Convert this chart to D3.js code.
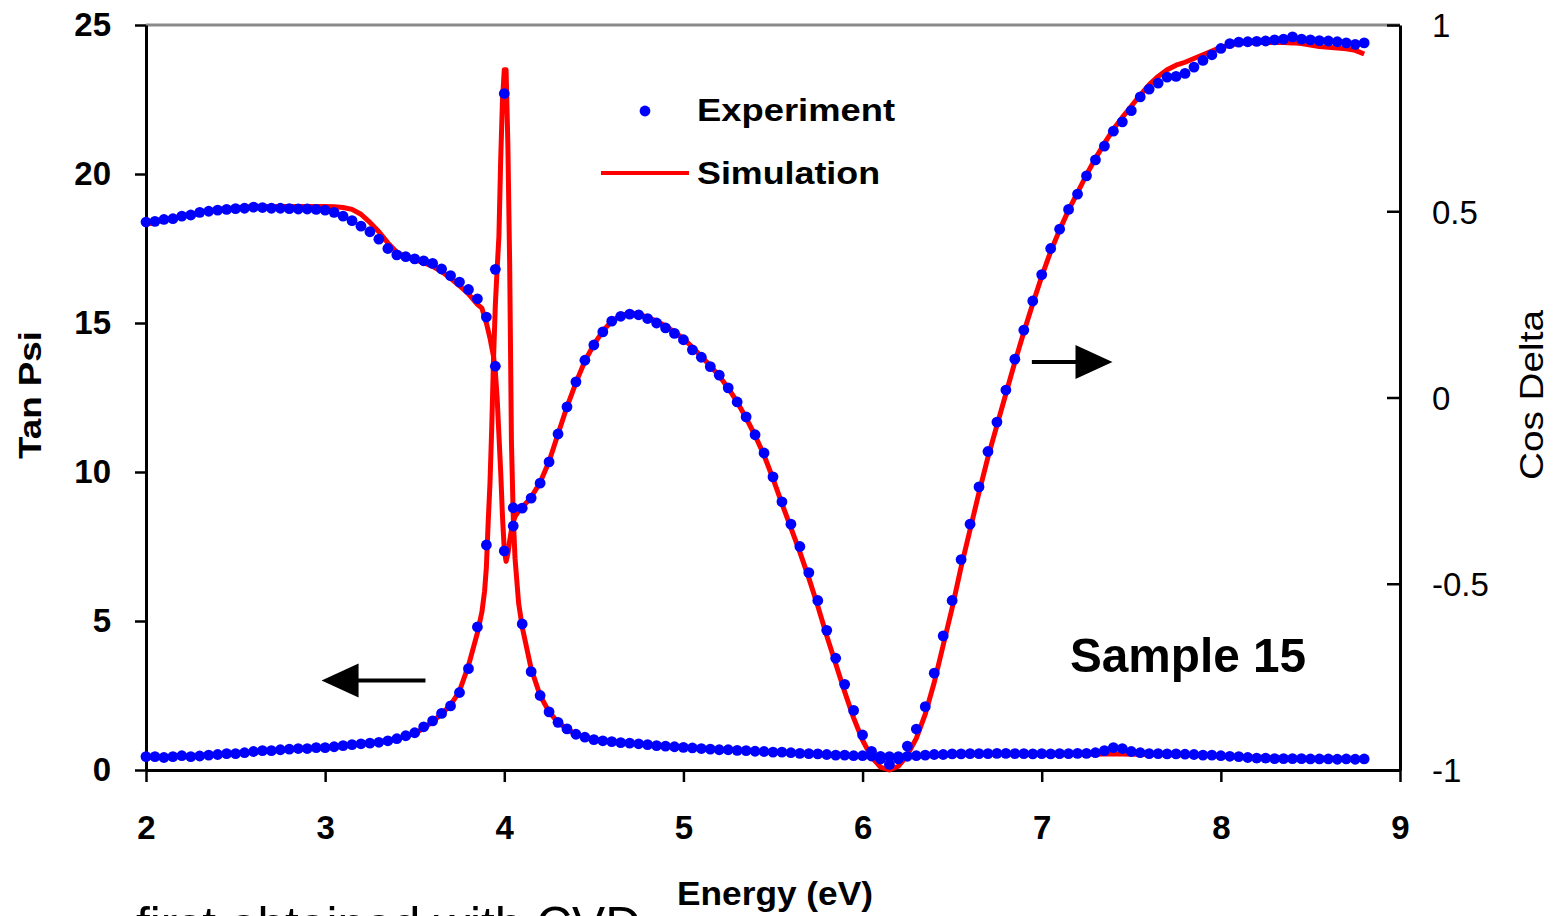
<!DOCTYPE html>
<html>
<head>
<meta charset="utf-8">
<title>Sample 15</title>
<script src="https://d3js.org/d3.v7.min.js"></script>
<style>
  body { margin: 0; background: #fff; overflow: hidden; }
  svg { display: block; font-family: "Liberation Sans", Arial, sans-serif; }
</style>
</head>
<body>
<svg id="chart"></svg>
<script>
// measured points, 0.05 eV step
var expEnergy = [
  2.00,2.05,2.10,2.15,2.20,2.25,2.30,2.35,2.40,2.45,
  2.50,2.55,2.60,2.65,2.70,2.75,2.80,2.85,2.90,2.95,
  3.00,3.05,3.10,3.15,3.20,3.25,3.30,3.35,3.40,3.45,
  3.50,3.55,3.60,3.65,3.70,3.75,3.80,3.85,3.90,3.95,
  4.00,4.05,4.10,4.15,4.20,4.25,4.30,4.35,4.40,4.45,
  4.50,4.55,4.60,4.65,4.70,4.75,4.80,4.85,4.90,4.95,
  5.00,5.05,5.10,5.15,5.20,5.25,5.30,5.35,5.40,5.45,
  5.50,5.55,5.60,5.65,5.70,5.75,5.80,5.85,5.90,5.95,
  6.00,6.05,6.10,6.15,6.20,6.25,6.30,6.35,6.40,6.45,
  6.50,6.55,6.60,6.65,6.70,6.75,6.80,6.85,6.90,6.95,
  7.00,7.05,7.10,7.15,7.20,7.25,7.30,7.35,7.40,7.45,
  7.50,7.55,7.60,7.65,7.70,7.75,7.80,7.85,7.90,7.95,
  8.00,8.05,8.10,8.15,8.20,8.25,8.30,8.35,8.40,8.45,
  8.50,8.55,8.60,8.65,8.70,8.75,8.80
];
var expTanPsi = [
  0.45,0.45,0.42,0.45,0.48,0.45,0.47,0.50,0.52,0.55,
  0.55,0.58,0.62,0.65,0.65,0.68,0.70,0.72,0.72,0.75,
  0.75,0.78,0.82,0.85,0.88,0.90,0.93,0.98,1.05,1.15,
  1.25,1.45,1.65,1.90,2.15,2.60,3.40,4.80,7.55,16.8,
  22.7,8.8,4.9,3.3,2.5,1.95,1.6,1.38,1.2,1.1,
  1.02,0.98,0.95,0.92,0.90,0.88,0.85,0.82,0.80,0.78,
  0.76,0.74,0.72,0.70,0.68,0.68,0.66,0.65,0.63,0.62,
  0.60,0.60,0.58,0.56,0.55,0.54,0.52,0.50,0.50,0.48,
  0.48,0.47,0.46,0.45,0.45,0.46,0.48,0.50,0.52,0.52,
  0.54,0.54,0.55,0.55,0.55,0.56,0.56,0.55,0.55,0.54,
  0.55,0.54,0.55,0.55,0.56,0.56,0.58,0.65,0.75,0.72,
  0.62,0.58,0.55,0.55,0.54,0.54,0.53,0.52,0.50,0.50,
  0.48,0.46,0.45,0.42,0.40,0.40,0.38,0.38,0.38,0.38,
  0.37,0.37,0.37,0.36,0.37,0.36,0.37
];
var expCosDelta = [
  0.471,0.473,0.478,0.480,0.487,0.490,0.497,0.500,0.503,0.505,
  0.507,0.508,0.511,0.510,0.508,0.508,0.507,0.506,0.506,0.505,
  0.503,0.497,0.487,0.475,0.460,0.445,0.425,0.400,0.383,0.378,
  0.372,0.367,0.360,0.345,0.327,0.310,0.290,0.265,0.216,0.084,
  -0.412,-0.345,-0.297,-0.270,-0.230,-0.173,-0.098,-0.025,0.042,0.100,
  0.141,0.176,0.205,0.218,0.224,0.222,0.212,0.200,0.187,0.172,
  0.155,0.128,0.108,0.083,0.060,0.026,-0.012,-0.052,-0.100,-0.149,
  -0.213,-0.280,-0.340,-0.400,-0.470,-0.545,-0.625,-0.700,-0.770,-0.840,
  -0.906,-0.950,-0.970,-0.985,-0.970,-0.936,-0.890,-0.830,-0.740,-0.640,
  -0.545,-0.435,-0.340,-0.240,-0.145,-0.066,0.020,0.103,0.181,0.259,
  0.330,0.400,0.452,0.505,0.546,0.595,0.638,0.675,0.715,0.740,
  0.770,0.807,0.828,0.844,0.860,0.862,0.870,0.887,0.905,0.920,
  0.937,0.950,0.954,0.955,0.956,0.957,0.960,0.962,0.968,0.962,
  0.960,0.958,0.957,0.955,0.952,0.948,0.952
];

// fitted model, finer around the 4 eV resonance
var simEnergy = [
  2.00,2.05,2.10,2.15,2.20,2.25,2.30,2.35,2.40,2.45,
  2.50,2.55,2.60,2.65,2.70,2.75,2.80,2.85,2.90,2.95,
  3.00,3.05,3.10,3.15,3.20,3.25,3.30,3.35,3.40,3.45,
  3.50,3.55,3.60,3.65,3.70,3.75,3.80,3.85,
  3.875,3.89,3.90,3.91,3.92,3.93,3.94,3.95,3.96,3.97,3.98,3.99,
  4.00,4.01,4.02,4.03,4.04,4.05,4.06,4.08,4.10,
  4.15,4.20,4.25,4.30,4.35,4.40,4.45,
  4.50,4.55,4.60,4.65,4.70,4.75,4.80,4.85,4.90,4.95,
  5.00,5.05,5.10,5.15,5.20,5.25,5.30,5.35,5.40,5.45,
  5.50,5.55,5.60,5.65,5.70,5.75,5.80,5.85,5.90,5.95,
  6.00,6.05,6.10,6.15,6.20,6.25,6.30,6.35,6.40,6.45,
  6.50,6.55,6.60,6.65,6.70,6.75,6.80,6.85,6.90,6.95,
  7.00,7.05,7.10,7.15,7.20,7.25,7.30,7.35,7.40,7.45,
  7.50,7.55,7.60,7.65,7.70,7.75,7.80,7.85,7.90,7.95,
  8.00,8.05,8.10,8.15,8.20,8.25,8.30,8.35,8.40,8.45,
  8.50,8.55,8.60,8.65,8.70,8.75,8.80
];
var simTanPsi = [
  0.42,0.43,0.44,0.45,0.46,0.47,0.48,0.50,0.52,0.54,
  0.56,0.58,0.60,0.62,0.64,0.66,0.68,0.70,0.72,0.74,
  0.76,0.78,0.81,0.84,0.87,0.90,0.94,0.99,1.05,1.13,
  1.23,1.40,1.62,1.88,2.18,2.65,3.50,4.60,
  5.3,6.0,6.8,8.3,9.6,11.5,13.8,15.6,16.8,17.9,20.5,22.5,
  23.5,23.5,21.0,17.0,11.0,8.5,7.1,5.6,4.8,
  3.4,2.5,1.95,1.6,1.38,1.2,1.1,
  1.02,0.98,0.95,0.92,0.90,0.88,0.85,0.82,0.80,0.78,
  0.76,0.74,0.72,0.70,0.68,0.67,0.66,0.65,0.63,0.62,
  0.60,0.59,0.58,0.56,0.55,0.54,0.52,0.51,0.50,0.49,
  0.48,0.47,0.46,0.45,0.45,0.46,0.47,0.48,0.49,0.50,
  0.51,0.52,0.52,0.53,0.53,0.53,0.53,0.53,0.53,0.53,
  0.53,0.53,0.53,0.53,0.53,0.53,0.53,0.54,0.54,0.54,
  0.53,0.53,0.52,0.52,0.51,0.51,0.50,0.50,0.49,0.48,
  0.47,0.46,0.45,0.44,0.43,0.42,0.41,0.40,0.39,0.39,
  0.38,0.38,0.37,0.37,0.36,0.36,0.36
];
var simCosDelta = [
  0.465,0.470,0.476,0.482,0.487,0.492,0.497,0.501,0.504,0.507,
  0.509,0.511,0.512,0.513,0.513,0.513,0.513,0.513,0.513,0.513,
  0.513,0.512,0.510,0.505,0.492,0.470,0.445,0.415,0.390,0.378,
  0.370,0.362,0.352,0.338,0.320,0.300,0.278,0.250,
  0.240,0.215,0.200,0.180,0.160,0.135,0.110,0.070,0.000,-0.100,-0.200,-0.320,
  -0.410,-0.440,-0.420,-0.385,-0.355,-0.335,-0.320,-0.305,-0.295,
  -0.268,-0.228,-0.172,-0.098,-0.025,0.040,0.098,
  0.142,0.178,0.205,0.220,0.226,0.224,0.215,0.205,0.192,0.176,
  0.158,0.135,0.110,0.085,0.058,0.025,-0.012,-0.055,-0.102,-0.155,
  -0.218,-0.285,-0.350,-0.415,-0.485,-0.560,-0.640,-0.715,-0.790,-0.860,
  -0.920,-0.965,-0.992,-1.000,-0.990,-0.960,-0.915,-0.850,-0.765,-0.665,
  -0.565,-0.455,-0.355,-0.255,-0.160,-0.075,0.010,0.095,0.175,0.252,
  0.325,0.392,0.450,0.503,0.550,0.598,0.642,0.682,0.720,0.752,
  0.782,0.812,0.840,0.862,0.880,0.892,0.900,0.910,0.920,0.930,
  0.940,0.946,0.950,0.952,0.953,0.953,0.953,0.953,0.952,0.950,
  0.946,0.942,0.940,0.938,0.936,0.932,0.922
];

var energyTicks = [2,3,4,5,6,7,8,9];
var tanPsiTicks = [0,5,10,15,20,25];
var cosDeltaTicks = [-1,-0.5,0,0.5,1];
var legendLabels = ["Experiment", "Simulation"];
var sampleLabel = "Sample 15";
// arrows: [energy from, energy to, value] -- left one on tan psi, right one on cos delta
var tanPsiArrow = [3.56, 2.98, 3.0];
var cosDeltaArrow = [6.945, 7.395, 0.095];

var width = 1560, height = 916;
var plotLeft = 146, plotRight = 1400, plotTop = 25, plotBottom = 770;
var font = '"Liberation Sans", Arial, sans-serif';

var svg = d3.select('#chart')
  .attr('width', width)
  .attr('height', height);

var x = d3.scaleLinear().domain([2, 9]).range([plotLeft, plotRight]);
var yL = d3.scaleLinear().domain([0, 25]).range([plotBottom, plotTop]);
var yR = d3.scaleLinear().domain([-1, 1]).range([plotBottom, plotTop]);

// frame top (grey)
svg.append('line')
  .attr('x1', plotLeft).attr('x2', plotRight)
  .attr('y1', plotTop).attr('y2', plotTop)
  .attr('stroke', '#8a8a8a').attr('stroke-width', 3);

function styleAxis(g, bold) {
  g.select('.domain').attr('stroke', '#000').attr('stroke-width', 3);
  g.selectAll('.tick line').attr('stroke', '#000').attr('stroke-width', 2.5);
  g.selectAll('.tick text')
    .attr('fill', '#000')
    .style('font-family', font)
    .style('font-size', '33px')
    .style('font-weight', bold ? 'bold' : 'normal');
}

var gLeft = svg.append('g')
  .attr('transform', 'translate(' + plotLeft + ',0)')
  .call(d3.axisLeft(yL).tickValues(tanPsiTicks).tickSize(11).tickSizeOuter(0).tickPadding(24).tickFormat(d => String(d)));
styleAxis(gLeft, true);

var gRight = svg.append('g')
  .attr('transform', 'translate(' + plotRight + ',0)')
  .call(d3.axisRight(yR).tickValues(cosDeltaTicks).tickSize(-13).tickSizeOuter(0).tickPadding(32).tickFormat(d => String(d)));
styleAxis(gRight, false);
gRight.selectAll('.tick text').attr('dy', '0.36em');

var gBottom = svg.append('g')
  .attr('transform', 'translate(0,' + plotBottom + ')')
  .call(d3.axisBottom(x).tickValues(energyTicks).tickSize(12).tickSizeOuter(0).tickPadding(34).tickFormat(d => String(d)));
styleAxis(gBottom, true);

// simulation lines
var lineTan = d3.line().x((d, i) => x(simEnergy[i])).y(d => yL(d));
var lineCos = d3.line().x((d, i) => x(simEnergy[i])).y(d => yR(d));

svg.append('path')
  .datum(simCosDelta)
  .attr('d', lineCos)
  .attr('fill', 'none').attr('stroke', '#ff0000').attr('stroke-width', 5)
  .attr('stroke-linejoin', 'round');
svg.append('path')
  .datum(simTanPsi)
  .attr('d', lineTan)
  .attr('fill', 'none').attr('stroke', '#ff0000').attr('stroke-width', 5)
  .attr('stroke-linejoin', 'round');

// experiment points
svg.append('g').selectAll('circle.cos')
  .data(expCosDelta)
  .enter().append('circle')
  .attr('class', 'cos')
  .attr('cx', (d, i) => x(expEnergy[i]))
  .attr('cy', d => yR(d))
  .attr('r', 5.4)
  .attr('fill', '#0000ff');
svg.append('g').selectAll('circle.tan')
  .data(expTanPsi)
  .enter().append('circle')
  .attr('class', 'tan')
  .attr('cx', (d, i) => x(expEnergy[i]))
  .attr('cy', d => yL(d))
  .attr('r', 5.4)
  .attr('fill', '#0000ff');

// arrows
function arrow(x1, x2, yy) {
  var dir = x2 > x1 ? 1 : -1;
  var headLen = 37, half = 17;
  svg.append('line')
    .attr('x1', x1).attr('x2', x2 - dir * headLen + dir * 2)
    .attr('y1', yy).attr('y2', yy)
    .attr('stroke', '#000').attr('stroke-width', 4);
  svg.append('path')
    .attr('d', 'M' + x2 + ',' + yy + 'L' + (x2 - dir * headLen) + ',' + (yy - half) + 'L' + (x2 - dir * headLen) + ',' + (yy + half) + 'Z')
    .attr('fill', '#000');
}
arrow(x(tanPsiArrow[0]), x(tanPsiArrow[1]), yL(tanPsiArrow[2]));
arrow(x(cosDeltaArrow[0]), x(cosDeltaArrow[1]), yR(cosDeltaArrow[2]));

// legend
var legend = svg.append('g');
legend.append('circle')
  .attr('cx', 645).attr('cy', 111).attr('r', 5.4)
  .attr('fill', '#0000ff');
legend.append('line')
  .attr('x1', 601).attr('x2', 689).attr('y1', 173).attr('y2', 173)
  .attr('stroke', '#ff0000').attr('stroke-width', 4);
legend.selectAll('text')
  .data(legendLabels)
  .enter().append('text')
  .attr('x', 697)
  .attr('y', (d, i) => 121 + i * 63)
  .attr('textLength', (d, i) => i === 0 ? 198 : 183)
  .attr('lengthAdjust', 'spacingAndGlyphs')
  .style('font-family', font)
  .style('font-size', '32px')
  .style('font-weight', 'bold')
  .text(d => d);

// axis titles
svg.append('text')
  .attr('transform', 'translate(41,395) rotate(-90)')
  .attr('text-anchor', 'middle')
  .attr('textLength', 128).attr('lengthAdjust', 'spacingAndGlyphs')
  .style('font-family', font).style('font-size', '32px').style('font-weight', 'bold')
  .text('Tan Psi');

svg.append('text')
  .attr('transform', 'translate(1543,395) rotate(-90)')
  .attr('text-anchor', 'middle')
  .attr('textLength', 170).attr('lengthAdjust', 'spacingAndGlyphs')
  .style('font-family', font).style('font-size', '33px')
  .text('Cos Delta');

svg.append('text')
  .attr('x', 775).attr('y', 905)
  .attr('text-anchor', 'middle')
  .attr('textLength', 196).attr('lengthAdjust', 'spacingAndGlyphs')
  .style('font-family', font).style('font-size', '33px').style('font-weight', 'bold')
  .text('Energy (eV)');

svg.append('text')
  .attr('x', 1070).attr('y', 672)
  .attr('textLength', 236).attr('lengthAdjust', 'spacingAndGlyphs')
  .style('font-family', font).style('font-size', '49px').style('font-weight', 'bold')
  .text(sampleLabel);

// caption line from the page below, cut by the frame
svg.append('text')
  .attr('x', 136).attr('y', 942)
  .attr('textLength', 505).attr('lengthAdjust', 'spacingAndGlyphs')
  .style('font-family', font).style('font-size', '50px')
  .text('first obtained with CVD');
</script>
</body>
</html>
